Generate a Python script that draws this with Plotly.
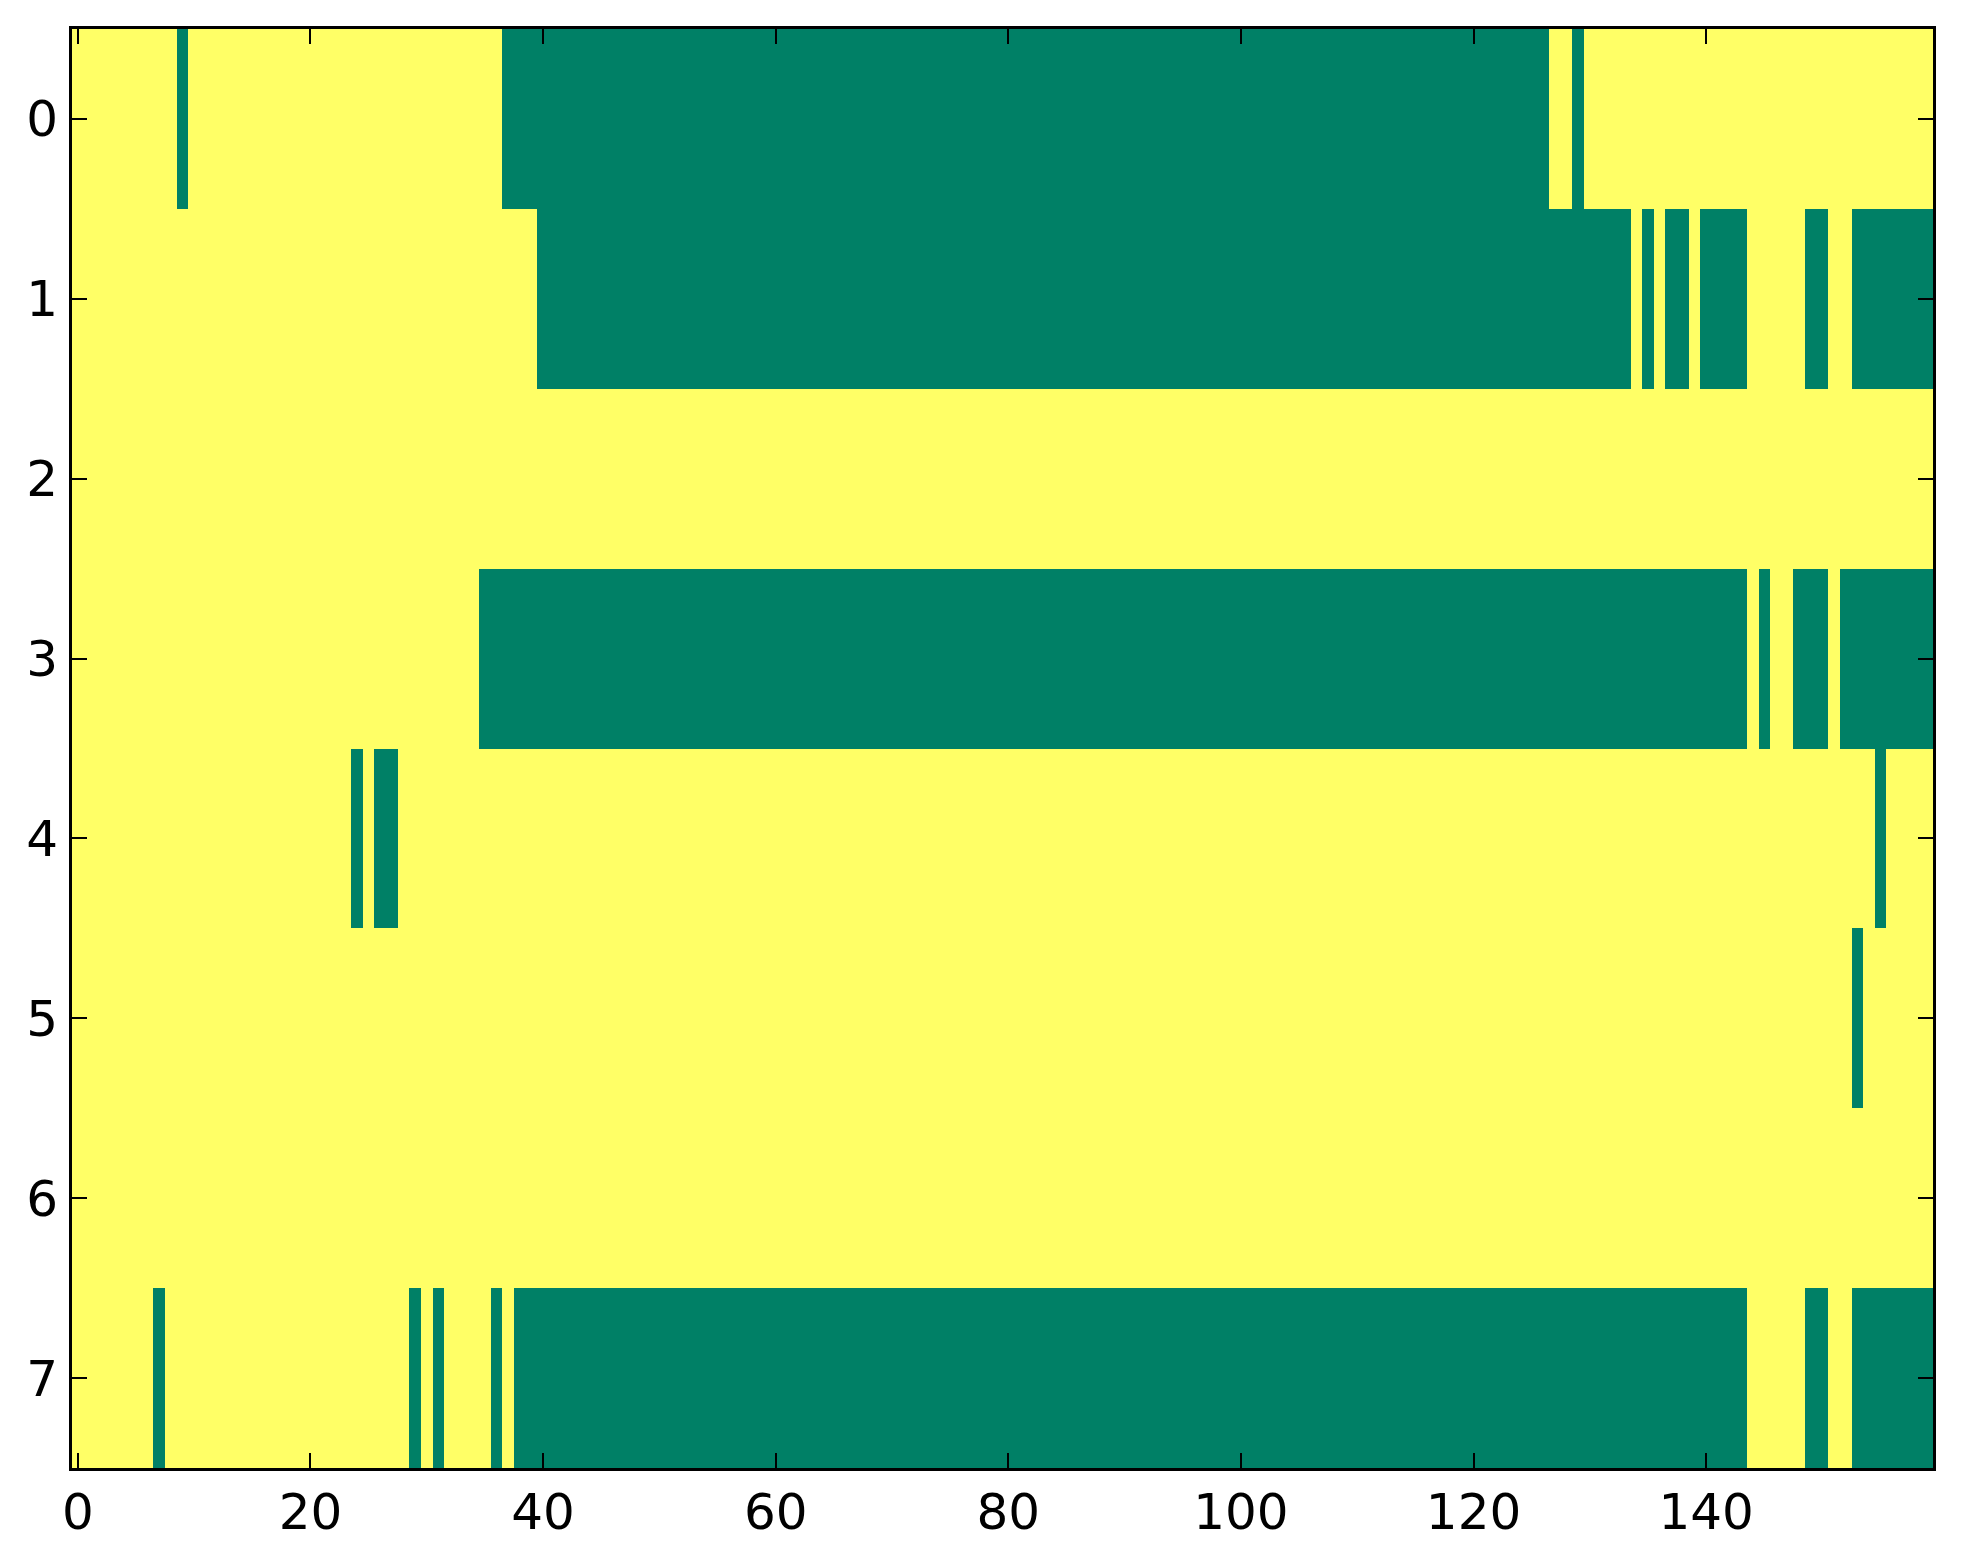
import numpy as np
import plotly.graph_objects as go

# 8 rows x 160 columns, binary image; listed are the green runs (inclusive column ranges)
n_cols = 160
row_labels = [0, 1, 2, 3, 4, 5, 6, 7]
x_ticks = [0, 20, 40, 60, 80, 100, 120, 140]

row0_green = [(9, 9), (37, 126), (129, 129)]
row1_green = [(40, 133), (135, 135), (137, 138), (140, 143), (149, 150), (153, 159)]
row2_green = []
row3_green = [(35, 143), (145, 145), (148, 150), (152, 159)]
row4_green = [(24, 24), (26, 27), (155, 155)]
row5_green = [(153, 153)]
row6_green = []
row7_green = [(7, 7), (29, 29), (31, 31), (36, 36), (38, 143), (149, 150), (153, 159)]

rows = [row0_green, row1_green, row2_green, row3_green,
        row4_green, row5_green, row6_green, row7_green]

# yellow = 1 (high end of "summer"), green = 0
z = np.ones((len(rows), n_cols))
for r, spans in enumerate(rows):
    for a, b in spans:
        z[r, a:b + 1] = 0

fig = go.Figure(go.Heatmap(
    z=z,
    x=list(range(n_cols)),
    y=row_labels,
    colorscale=[[0, "#008066"], [1, "#ffff66"]],
    zmin=0, zmax=1,
    showscale=False,
    hoverinfo="skip",
))

axis_style = dict(
    showline=True, linecolor="black", linewidth=3,
    mirror="allticks", ticks="inside", ticklen=15, tickwidth=2,
    tickcolor="black", showgrid=False, zeroline=False,
    tickfont=dict(family="DejaVu Sans", size=50, color="black"),
)

# page body has an 8px margin, so the figure is 16px smaller than the window
fig.update_layout(
    width=1947, height=1548,
    paper_bgcolor="white", plot_bgcolor="white",
    margin=dict(l=64, r=22, t=21, b=88),
    xaxis=dict(range=[-0.5, n_cols - 0.5], tickvals=x_ticks,
               ticklabelstandoff=-2, **axis_style),
    yaxis=dict(range=[len(rows) - 0.5, -0.5], tickvals=row_labels,
               ticklabelstandoff=1, **axis_style),
)

fig.write_html("out.html")
